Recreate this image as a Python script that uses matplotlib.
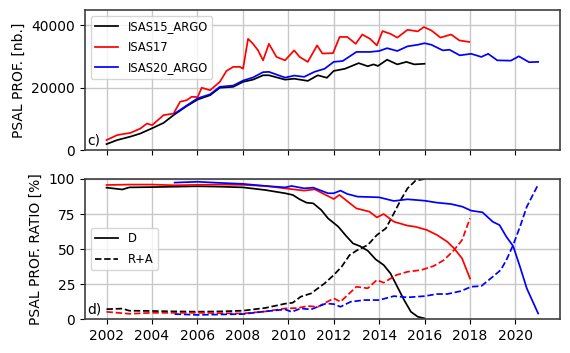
import matplotlib.pyplot as plt
import numpy as np

# panel c) number of PSAL profiles
isas15_yr = [2002.0, 2002.47, 2003.05, 2003.49, 2004.01, 2004.51, 2004.95, 2005.53, 2006.01, 2006.56,
             2006.99, 2007.58, 2008.01, 2008.45, 2008.89, 2009.15, 2009.86, 2010.26, 2010.86, 2011.3,
             2011.7, 2012.0, 2012.5, 2013.1, 2013.5, 2013.75, 2013.95, 2014.35, 2014.8, 2015.2,
             2015.55, 2016.0]
isas15_nb = [1900, 3200, 4300, 5300, 7000, 8700, 11200, 14100, 16200, 17600,
             20000, 20300, 21900, 22600, 24000, 24000, 22600, 22900, 22200, 24000,
             23200, 25400, 26100, 27900, 26900, 27500, 27000, 29000, 27500, 28300,
             27500, 27700]

isas17_yr = [2002.0, 2002.47, 2003.05, 2003.49, 2003.78, 2004.01, 2004.51, 2004.95, 2005.24, 2005.53,
             2005.75, 2006.01, 2006.19, 2006.56, 2006.99, 2007.28, 2007.58, 2007.87, 2008.01, 2008.23,
             2008.45, 2008.67, 2008.89, 2009.15, 2009.48, 2009.86, 2010.26, 2010.5, 2010.86, 2011.27,
             2011.5, 2011.97, 2012.26, 2012.6, 2012.97, 2013.26, 2013.6, 2013.9, 2014.15, 2014.5,
             2014.8, 2015.25, 2015.7, 2015.97, 2016.3, 2016.7, 2017.17, 2017.53, 2017.97]
isas17_nb = [3200, 4800, 5500, 6900, 8500, 8000, 11200, 11700, 15500, 16000,
             17100, 17000, 20000, 19200, 21900, 25400, 26700, 26700, 26100, 35700,
             34100, 32000, 28800, 34100, 29900, 28800, 32000, 29900, 28300, 33600,
             31000, 31100, 36300, 36300, 34100, 37100, 35700, 33600, 38200, 37300,
             36100, 38600, 38100, 39500, 38400, 36100, 37100, 35200, 34700]

isas20_yr = [2005.0, 2005.53, 2006.01, 2006.56, 2006.99, 2007.58, 2008.01, 2008.45, 2008.89, 2009.15,
             2009.86, 2010.26, 2010.7, 2011.15, 2011.6, 2012.0, 2012.4, 2013.0, 2013.6, 2014.0,
             2014.35, 2014.8, 2015.25, 2015.7, 2016.0, 2016.3, 2016.8, 2017.1, 2017.55, 2018.05,
             2018.5, 2018.8, 2019.2, 2019.8, 2020.15, 2020.6, 2021.0]
isas20_nb = [11700, 14300, 16600, 17900, 20300, 20700, 22300, 23300, 25000, 25100,
             23250, 23900, 23500, 25100, 26100, 28300, 28600, 31500, 31500, 31800,
             32700, 31800, 33300, 33800, 34300, 33800, 32000, 32200, 30400, 30900,
             29900, 30900, 28800, 28700, 30100, 28200, 28300]

# panel d) ratio of delayed-mode (D) and real-time + adjusted (R+A) profiles
isas15_d_yr = [2002.0, 2002.7, 2003.0, 2004.0, 2005.0, 2006.0, 2007.0, 2008.0, 2009.0, 2009.86,
               2010.2, 2010.5, 2010.8, 2011.1, 2011.45, 2011.75, 2012.2, 2012.55, 2012.85, 2013.15,
               2013.5, 2013.85, 2014.2, 2014.5, 2014.8, 2015.1, 2015.4, 2015.7, 2016.0]
isas15_d = [93.8, 92.5, 94.0, 94.2, 94.5, 94.8, 94.5, 94.0, 92.1, 89.8,
            88.6, 85.5, 83.1, 82.6, 77.9, 71.9, 66.0, 59.3, 54.0, 52.1,
            48.8, 42.6, 38.6, 32.6, 23.1, 13.6, 5.2, 1.7, 0.5]
isas15_ra_yr = [2002.0, 2002.7, 2003.0, 2004.0, 2005.0, 2006.0, 2007.0, 2008.0, 2009.0, 2009.86,
                2010.2, 2010.55, 2011.0, 2011.6, 2012.0, 2012.35, 2012.7, 2013.05, 2013.5, 2013.9,
                2014.3, 2014.65, 2014.95, 2015.25, 2015.6, 2016.0]
isas15_ra = [7.1, 7.5, 6.0, 5.8, 5.5, 5.3, 5.5, 6.0, 8.0, 11.0,
             11.7, 16.0, 18.3, 25.5, 31.4, 37.4, 45.7, 49.3, 52.9, 60.0,
             64.8, 75.5, 85.0, 93.3, 98.8, 100.0]

isas17_d_yr = [2002.0, 2003.0, 2004.0, 2005.0, 2006.0, 2007.0, 2008.0, 2009.0, 2009.86, 2010.7,
               2011.17, 2012.0, 2012.25, 2013.0, 2013.57, 2013.9, 2014.2, 2014.65, 2015.25, 2015.6,
               2016.1, 2016.55, 2017.0, 2017.3, 2017.65, 2018.0]
isas17_d = [95.7, 96.0, 96.0, 95.5, 95.8, 96.0, 95.8, 95.0, 93.3, 91.7,
            92.6, 85.7, 88.6, 79.0, 76.7, 72.6, 75.0, 69.5, 66.7, 65.9,
            63.6, 60.0, 55.2, 50.5, 43.3, 29.0]
isas17_ra_yr = [2002.0, 2003.0, 2004.0, 2005.0, 2006.0, 2007.0, 2008.0, 2009.0, 2009.86, 2010.4,
                2010.86, 2011.3, 2012.0, 2012.3, 2013.0, 2013.5, 2013.9, 2014.2, 2014.75, 2015.25,
                2015.85, 2016.4, 2016.85, 2017.3, 2017.65, 2018.0]
isas17_ra = [5.2, 3.8, 4.5, 4.5, 4.5, 4.3, 4.0, 5.5, 7.6, 7.9,
             9.3, 8.8, 14.8, 12.4, 23.1, 22.0, 27.9, 26.0, 31.4, 33.8,
             35.0, 37.9, 42.1, 49.3, 56.4, 71.9]

isas20_d_yr = [2005.0, 2006.0, 2007.0, 2008.0, 2009.0, 2009.86, 2010.15, 2010.7, 2011.1, 2011.75,
               2012.0, 2012.3, 2012.6, 2013.05, 2014.0, 2014.65, 2015.25, 2016.0, 2016.55, 2017.17,
               2017.67, 2018.05, 2018.55, 2019.0, 2019.3, 2019.6, 2019.9, 2020.2, 2020.5, 2021.0]
isas20_d = [97.4, 98.0, 97.2, 96.5, 95.0, 94.0, 95.0, 93.3, 93.8, 89.8,
            89.8, 91.7, 89.3, 87.4, 86.9, 84.3, 85.5, 84.5, 83.1, 82.1,
            80.2, 77.4, 76.2, 69.5, 67.1, 58.8, 52.1, 37.4, 21.9, 4.0]
isas20_ra_yr = [2005.0, 2006.0, 2007.0, 2008.0, 2009.0, 2009.86, 2010.15, 2010.55, 2011.0, 2011.67,
                2012.0, 2012.3, 2012.75, 2013.35, 2014.0, 2014.65, 2015.25, 2016.0, 2016.55, 2017.0,
                2017.6, 2018.05, 2018.5, 2019.0, 2019.35, 2019.6, 2019.9, 2020.2, 2020.5, 2021.0]
isas20_ra = [3.6, 3.0, 3.3, 3.6, 5.5, 6.9, 5.2, 7.6, 6.9, 11.2,
             10.7, 8.8, 12.4, 13.6, 13.6, 16.4, 15.5, 16.4, 17.9, 17.9,
             20.0, 23.1, 23.6, 30.2, 35.0, 42.1, 52.9, 65.9, 80.2, 96.0]

year_ticks = np.arange(2002, 2021, 2)


def style_axes(ax):
    ax.grid(True, color="#c8c8c8", linewidth=1.0)
    ax.set_axisbelow(True)
    for spine in ax.spines.values():
        spine.set_color("#404040")
        spine.set_linewidth(1.2)
    ax.set_xlim(2001.05, 2021.95)
    ax.set_xticks(year_ticks)
    ax.tick_params(labelsize=10)


fig = plt.figure(figsize=(5.7, 3.53), dpi=100)
ax_c = fig.add_axes([0.149, 0.575, 0.833, 0.397])
ax_d = fig.add_axes([0.149, 0.096, 0.833, 0.397])

lw = 1.25
ax_c.plot(isas15_yr, isas15_nb, color="k", linewidth=lw, label="ISAS15_ARGO")
ax_c.plot(isas17_yr, isas17_nb, color="r", linewidth=lw, label="ISAS17")
ax_c.plot(isas20_yr, isas20_nb, color="b", linewidth=lw, label="ISAS20_ARGO")
style_axes(ax_c)
ax_c.set_ylim(0, 45000)
ax_c.set_yticks([0, 20000, 40000])
ax_c.set_xticklabels([])
ax_c.set_ylabel("PSAL PROF. [nb.]", fontsize=10)
ax_c.legend(loc="upper left", fontsize=8.3, labelspacing=0.65)
ax_c.text(0.005, 0.02, "c)", transform=ax_c.transAxes, fontsize=10, va="bottom")

ax_d.plot(isas15_d_yr, isas15_d, color="k", linewidth=lw, label="D")
ax_d.plot(isas15_ra_yr, isas15_ra, color="k", linewidth=lw, linestyle="--", label="R+A")
ax_d.plot(isas17_d_yr, isas17_d, color="r", linewidth=lw)
ax_d.plot(isas17_ra_yr, isas17_ra, color="r", linewidth=lw, linestyle="--")
ax_d.plot(isas20_d_yr, isas20_d, color="b", linewidth=lw)
ax_d.plot(isas20_ra_yr, isas20_ra, color="b", linewidth=lw, linestyle="--")
style_axes(ax_d)
ax_d.set_ylim(0, 100)
ax_d.set_yticks([0, 25, 50, 75, 100])
ax_d.set_ylabel("PSAL PROF. RATIO [%]", fontsize=10)
ax_d.legend(loc="center left", fontsize=8.3, labelspacing=0.65)
ax_d.text(0.005, 0.02, "d)", transform=ax_d.transAxes, fontsize=10, va="bottom")

fig.savefig("out.png", dpi=100)
